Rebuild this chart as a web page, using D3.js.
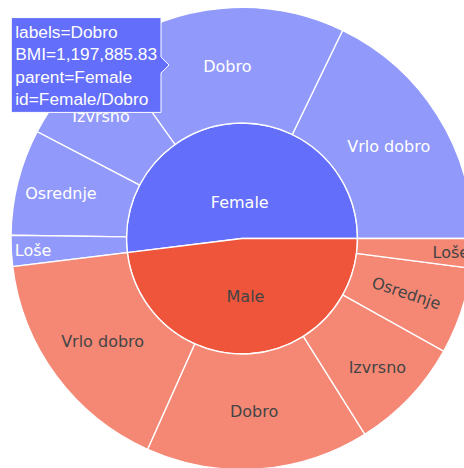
<!DOCTYPE html>
<html>
<head>
<meta charset="utf-8">
<script src="https://cdn.jsdelivr.net/npm/d3@7"></script>
<style>
  body { margin: 0; background: #fff; }
  svg { display: block; }
</style>
</head>
<body>
<svg width="464" height="468"></svg>
<script>
var genders = ["Female", "Male"];
var genderColors = ["#636efa", "#ef553b"];
var ratings = ["Vrlo dobro", "Dobro", "Izvrsno", "Osrednje", "Loše"];
var femaleBMI = [1254530, 1197885.83, 527000, 522000, 152420];
var maleBMI = [1150960, 1098200, 560830, 426000, 144600];
var bmiByGender = [femaleBMI, maleBMI];

// simulated hover on Female/Dobro
var hoverId = "Female/Dobro";
var mouse = [169, 65];

var svg = d3.select("svg");
var cx = 242, cy = 238.5, R = 231;
var fontFamily = "'DejaVu Sans', Verdana, sans-serif";

var root = d3.hierarchy({
    name: "",
    children: genders.map(function(g, gi) {
        return {
            name: g,
            color: genderColors[gi],
            children: ratings.map(function(r, i) {
                return {name: r, value: bmiByGender[gi][i]};
            })
        };
    })
}).sum(function(d) { return d.value || 0; })
  .sort(function(a, b) { return b.value - a.value; });

d3.partition().size([2 * Math.PI, 3])(root);

var rScale = d3.scaleLinear().domain([1, 3]).range([0, R]);

// plotly: counterclockwise from 3 o'clock; d3: clockwise from 12 o'clock
var arc = d3.arc()
    .startAngle(function(d) { return Math.PI / 2 - d.x1; })
    .endAngle(function(d) { return Math.PI / 2 - d.x0; })
    .innerRadius(function(d) { return rScale(d.y0); })
    .outerRadius(function(d) { return rScale(d.y1); });

var nodes = root.descendants().filter(function(d) { return d.depth > 0; });
nodes.forEach(function(d) {
    var top = d.depth === 1 ? d : d.parent;
    d.id = d.ancestors().reverse().slice(1).map(function(a) { return a.data.name; }).join("/");
    d.baseColor = top.data.color;
    d.textColor = top.data.name === "Female" ? "#fff" : "#444";
});

var g = svg.append("g").attr("transform", "translate(" + cx + "," + cy + ")");

g.selectAll("path.slice")
    .data(nodes)
    .enter()
    .append("path")
    .attr("class", "slice")
    .attr("d", arc)
    .style("fill", function(d) { return d.baseColor; })
    .style("fill-opacity", function(d) { return d.children ? 1 : 0.7; })
    .style("stroke", "#fff")
    .style("stroke-width", 1.33);

function labelRadius(d) {
    var span = (d.x1 - d.x0) * 180 / Math.PI;
    var r0 = rScale(d.y0), r1 = rScale(d.y1);
    if (d.depth === 1) {
        return span > 180 ? 0.316 * r1 : 0.5 * r1;
    }
    var mid = (r0 + r1) / 2;
    if (d.id === "Male/Osrednje" || span >= 40) return mid;
    if (span >= 15) return mid + 13.5;
    return mid + 36;
}

g.selectAll("text.label")
    .data(nodes)
    .enter()
    .append("text")
    .attr("class", "label")
    .attr("transform", function(d) {
        var a = (d.x0 + d.x1) / 2;
        var r = labelRadius(d);
        var t = "translate(" + (r * Math.cos(a)) + "," + (-r * Math.sin(a)) + ")";
        if (d.id === "Male/Osrednje") {
            t += " rotate(" + (-a * 180 / Math.PI + 360) + ")";
        }
        return t;
    })
    .attr("text-anchor", "middle")
    .attr("dy", "0.36em")
    .style("font-family", fontFamily)
    .style("font-size", "16px")
    .style("fill", function(d) { return d.textColor; })
    .text(function(d) { return d.data.name; });

// hover label
var hovered = nodes.filter(function(d) { return d.id === hoverId; })[0];
var hoverLines = [
    "labels=" + hovered.data.name,
    "BMI=" + d3.format(",.2f")(hovered.value),
    "parent=" + hovered.parent.data.name,
    "id=" + hovered.id
];
var hoverFont = 17.3, lineH = 22.2, pad = 4, arrow = 8;

var hg = svg.append("g").attr("transform", "translate(" + mouse[0] + "," + mouse[1] + ")");
var htext = hg.append("text")
    .style("font-family", "'Liberation Sans', Arial, sans-serif")
    .style("font-size", hoverFont + "px")
    .style("fill", "#fff");
htext.selectAll("tspan")
    .data(hoverLines)
    .enter()
    .append("tspan")
    .attr("x", 0)
    .attr("y", function(d, i) { return i * lineH; })
    .text(function(d) { return d; });

var bb = htext.node().getBBox();
var w = bb.width + 2 * pad;
var h = hoverLines.length * lineH + 6;
var half = h / 2;
hg.insert("path", "text")
    .attr("d", "M0,0L" + (-arrow) + "," + (-arrow) + "V" + (-half) + "H" + (-arrow - w) +
        "V" + half + "H" + (-arrow) + "V" + arrow + "Z")
    .style("fill", hovered.baseColor)
    .style("stroke", "#fff")
    .style("stroke-width", 1);
htext.attr("transform", "translate(" + (-arrow - w + pad) + "," + (-half + 20.7) + ")");
</script>
</body>
</html>
